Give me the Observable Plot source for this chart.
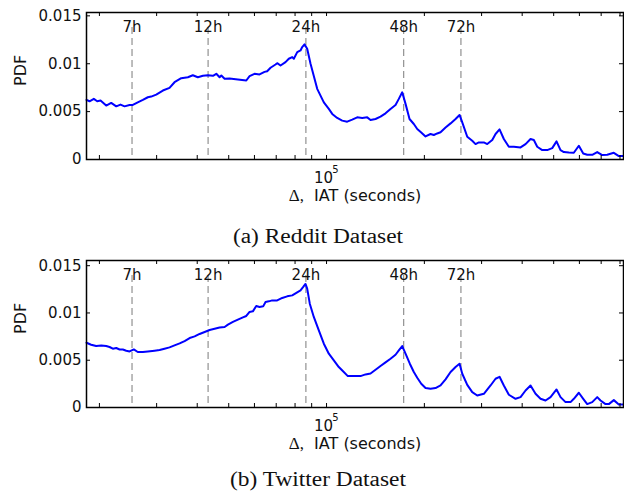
<!DOCTYPE html>
<html>
<head>
<meta charset="utf-8">
<script src="https://cdn.jsdelivr.net/npm/d3@7"></script>
<script src="https://cdn.jsdelivr.net/npm/@observablehq/plot@0.6"></script>
<style>
  html, body { margin: 0; padding: 0; background: white; }
  #wrap { position: relative; width: 624px; height: 491px; overflow: hidden; background: white; }
  #wrap svg { position: absolute; left: 0; overflow: visible; }
  #wrap svg text { white-space: pre; }
  .cap { position: absolute; left: 6px; width: 624px; text-align: center; font-family: "Liberation Serif", serif; font-size: 20px; line-height: 20px; color: #111; transform: scaleX(1.17); }
</style>
</head>
<body>
<div id="wrap"></div>
<script>
// ---- data (x in hours, y = PDF) ----
const redditSeries = [
  [5.07,0.00623],[5.18,0.00608],[5.34,0.00633],[5.47,0.00608],[5.60,0.00615],[5.83,0.00563],[6.04,0.00591],[6.26,0.00555],
  [6.45,0.00573],[6.64,0.00555],[6.88,0.00570],[7.04,0.00570],[7.29,0.00597],[7.56,0.00622],[7.83,0.00650],[8.02,0.00657],
  [8.31,0.00678],[8.71,0.00720],[9.13,0.00748],[9.46,0.00807],[9.92,0.00849],[10.40,0.00859],[10.77,0.00880],[11.16,0.00859],
  [11.57,0.00874],[11.98,0.00880],[12.42,0.00874],[12.72,0.00895],[13.02,0.00859],[13.18,0.00877],[13.49,0.00843],[13.97,0.00846],
  [14.82,0.00835],[15.73,0.00825],[16.10,0.00870],[16.67,0.00895],[17.28,0.00888],[17.90,0.00915],[18.24,0.00922],[18.68,0.00958],
  [19.35,0.00992],[19.58,0.01006],[20.05,0.00982],[20.77,0.01017],[21.26,0.01052],[21.78,0.01069],[22.03,0.01052],[22.57,0.01121],
  [23.10,0.01139],[23.38,0.01174],[23.76,0.01202],[24.22,0.01157],[24.80,0.01000],[26.00,0.00738],[27.25,0.00597],[28.23,0.00528],
  [28.92,0.00476],[29.96,0.00434],[31.04,0.00406],[32.16,0.00395],[33.32,0.00416],[34.52,0.00440],[35.77,0.00434],[37.06,0.00440],
  [37.94,0.00413],[39.31,0.00423],[40.72,0.00447],[42.19,0.00482],[43.71,0.00528],[45.29,0.00570],[46.36,0.00633],[47.49,0.00702],
  [48.62,0.00581],[50.01,0.00423],[51.56,0.00371],[52.82,0.00319],[54.34,0.00283],[56.02,0.00241],[58.04,0.00266],[59.41,0.00256],
  [60.86,0.00272],[62.30,0.00285],[64.56,0.00335],[66.89,0.00377],[69.30,0.00423],[71.29,0.00465],[72.67,0.00388],[75.29,0.00238],
  [78.00,0.00196],[79.85,0.00161],[81.74,0.00178],[84.68,0.00178],[86.75,0.00161],[89.88,0.00203],[92.00,0.00266],[94.65,0.00314],
  [97.57,0.00214],[101.09,0.00133],[104.74,0.00133],[109.83,0.00126],[113.79,0.00161],[117.89,0.00214],[120.68,0.00203],[123.62,0.00133],
  [128.08,0.00098],[132.70,0.00098],[137.48,0.00119],[141.74,0.00189],[145.81,0.00098],[149.26,0.00078],[154.64,0.00073],[160.22,0.00070],
  [166.00,0.00144],[171.25,0.00063],[176.17,0.00049],[182.53,0.00049],[189.11,0.00078],[195.93,0.00046],[202.99,0.00049],[212.71,0.00070],
  [220.38,0.00036],[227.8,0.00036]
];
const twitterSeries = [
  [5.07,0.00685],[5.24,0.00664],[5.43,0.00650],[5.63,0.00657],[5.83,0.00650],[5.97,0.00640],[6.11,0.00622],[6.26,0.00629],
  [6.41,0.00614],[6.56,0.00614],[6.72,0.00601],[6.88,0.00593],[7.09,0.00614],[7.29,0.00587],[7.56,0.00587],[7.83,0.00593],
  [8.21,0.00601],[8.51,0.00608],[8.81,0.00622],[9.13,0.00636],[9.46,0.00657],[9.81,0.00678],[10.16,0.00703],[10.53,0.00735],
  [10.91,0.00752],[11.30,0.00778],[11.71,0.00799],[12.13,0.00820],[12.57,0.00834],[13.02,0.00847],[13.49,0.00852],[13.81,0.00876],
  [14.31,0.00905],[14.82,0.00929],[15.36,0.00953],[15.73,0.00968],[16.10,0.01011],[16.48,0.01017],[16.88,0.01074],[17.28,0.01064],
  [17.73,0.01070],[18.03,0.01117],[18.45,0.01123],[18.90,0.01133],[19.58,0.01133],[20.29,0.01159],[21.02,0.01176],[21.78,0.01186],
  [22.30,0.01208],[23.10,0.01239],[23.55,0.01275],[23.93,0.01307],[24.22,0.01257],[24.67,0.01098],[25.38,0.00958],[26.30,0.00816],
  [27.25,0.00675],[28.23,0.00569],[29.25,0.00498],[30.30,0.00428],[31.39,0.00375],[32.30,0.00332],[33.70,0.00332],[35.34,0.00332],
  [36.62,0.00350],[37.94,0.00360],[39.31,0.00399],[40.72,0.00439],[42.19,0.00477],[43.71,0.00516],[45.29,0.00558],[46.36,0.00604],
  [47.49,0.00650],[48.62,0.00569],[50.12,0.00463],[51.56,0.00375],[52.82,0.00315],[54.34,0.00251],[56.02,0.00206],[58.04,0.00198],
  [60.13,0.00206],[62.30,0.00233],[64.56,0.00297],[66.89,0.00375],[69.30,0.00428],[71.29,0.00463],[72.67,0.00357],[75.29,0.00240],
  [78.00,0.00163],[80.81,0.00127],[84.68,0.00145],[88.80,0.00233],[92.00,0.00304],[94.65,0.00325],[97.57,0.00233],[101.09,0.00135],
  [106.01,0.00092],[109.83,0.00110],[113.79,0.00180],[117.89,0.00233],[122.14,0.00145],[126.55,0.00092],[131.11,0.00074],[135.84,0.00110],
  [141.74,0.00191],[145.81,0.00110],[151.07,0.00057],[156.52,0.00057],[160.22,0.00092],[166.00,0.00156],[171.25,0.00092],[176.17,0.00036],
  [182.53,0.00057],[189.11,0.00110],[193.58,0.00074],[200.56,0.00036],[205.31,0.00036],[212.71,0.00078],[220.38,0.00032],[227.8,0.00032]
];
const hourMarks = [7, 12, 24, 48, 72];
const xDomainHours = [5.07, 227.8];
const xMajorTicks = [1e5];
const xMinorTicks = [2e4, 3e4, 4e4, 5e4, 6e4, 7e4, 8e4, 9e4, 2e5, 3e5, 4e5, 5e5, 6e5, 7e5, 8e5];
const yTicks = [0, 0.005, 0.01, 0.015];
const captions = ["(a) Reddit Dataset", "(b) Twitter Dataset"];
const yLabel = "PDF";
const xLabel = "Δ,  IAT (seconds)";

function panel(series, yMax, mt, mb) {
  const H = 215;
  const frameH = H - mt - mb, frameW = 624 - 86 - 1;
  const allX = xMajorTicks.concat(xMinorTicks);
  const svg = Plot.plot({
    width: 624, height: H,
    marginLeft: 86, marginRight: 1, marginTop: mt, marginBottom: mb,
    x: {type: "log", domain: xDomainHours.map(h => h * 3600), axis: null},
    y: {domain: [0, yMax], axis: null},
    style: {fontFamily: "DejaVu Sans", fontSize: "15px", background: "white", color: "black", overflow: "visible"},
    marks: [
      Plot.ruleX(hourMarks, {x: h => h * 3600, insetTop: 15, stroke: "#7a7a7a", strokeWidth: 1, strokeDasharray: "7,4"}),
      Plot.text(hourMarks, {x: h => h * 3600, text: h => h + "h", frameAnchor: "top", dy: 9, fill: "#111"}),
      Plot.line(series, {x: d => d[0] * 3600, y: d => d[1], stroke: "#0000ff", strokeWidth: 2}),
      Plot.tickY(yTicks, {y: d => d, insetRight: frameW - 4, stroke: "black", strokeWidth: 1}),
      Plot.tickY(yTicks, {y: d => d, insetLeft: frameW - 4, stroke: "black", strokeWidth: 1}),
      Plot.tickX(allX, {x: d => d, insetTop: frameH - 4, stroke: "black", strokeWidth: 1}),
      Plot.tickX(allX, {x: d => d, insetBottom: frameH - 4, stroke: "black", strokeWidth: 1}),
      Plot.frame({stroke: "black", strokeWidth: 1.5}),
      Plot.text(yTicks, {y: d => d, text: d => String(d), frameAnchor: "left", dx: -5, textAnchor: "end", fill: "#111"}),
      Plot.text([yLabel], {text: d => d, frameAnchor: "left", dx: -66, rotate: -90, fontSize: 16, fill: "#111"}),
      Plot.text(xMajorTicks, {x: d => d, text: () => "10", frameAnchor: "bottom", dy: 23, dx: -3, fill: "#111"}),
      Plot.text(xMajorTicks, {x: d => d, text: () => "5", frameAnchor: "bottom", dy: 13, dx: 9, fontSize: 10, fill: "#111"}),
      Plot.text([xLabel], {text: d => d, frameAnchor: "bottom", dy: 41.5, fontSize: 16, fill: "#111"})
    ]
  });
  svg.querySelectorAll("text").forEach(t => {
    if (t.textContent === xLabel) {
      t.textContent = "";
      const a = document.createElementNS("http://www.w3.org/2000/svg", "tspan");
      a.setAttribute("font-family", "Liberation Serif");
      a.setAttribute("font-size", "17");
      a.textContent = "Δ,";
      const b = document.createElementNS("http://www.w3.org/2000/svg", "tspan");
      b.textContent = "  IAT (seconds)";
      t.appendChild(a); t.appendChild(b);
    }
  });
  return svg;
}

const wrap = document.getElementById("wrap");
const s1 = panel(redditSeries, 0.01535, 12, 56);
s1.style.top = "0px";
wrap.appendChild(s1);
const c1 = document.createElement("div");
c1.className = "cap"; c1.style.top = "226px"; c1.textContent = captions[0];
wrap.appendChild(c1);
const s2 = panel(twitterSeries, 0.01555, 11, 57);
s2.style.top = "249px";
wrap.appendChild(s2);
const c2 = document.createElement("div");
c2.className = "cap"; c2.style.top = "469px"; c2.textContent = captions[1];
wrap.appendChild(c2);
</script>
</body>
</html>
